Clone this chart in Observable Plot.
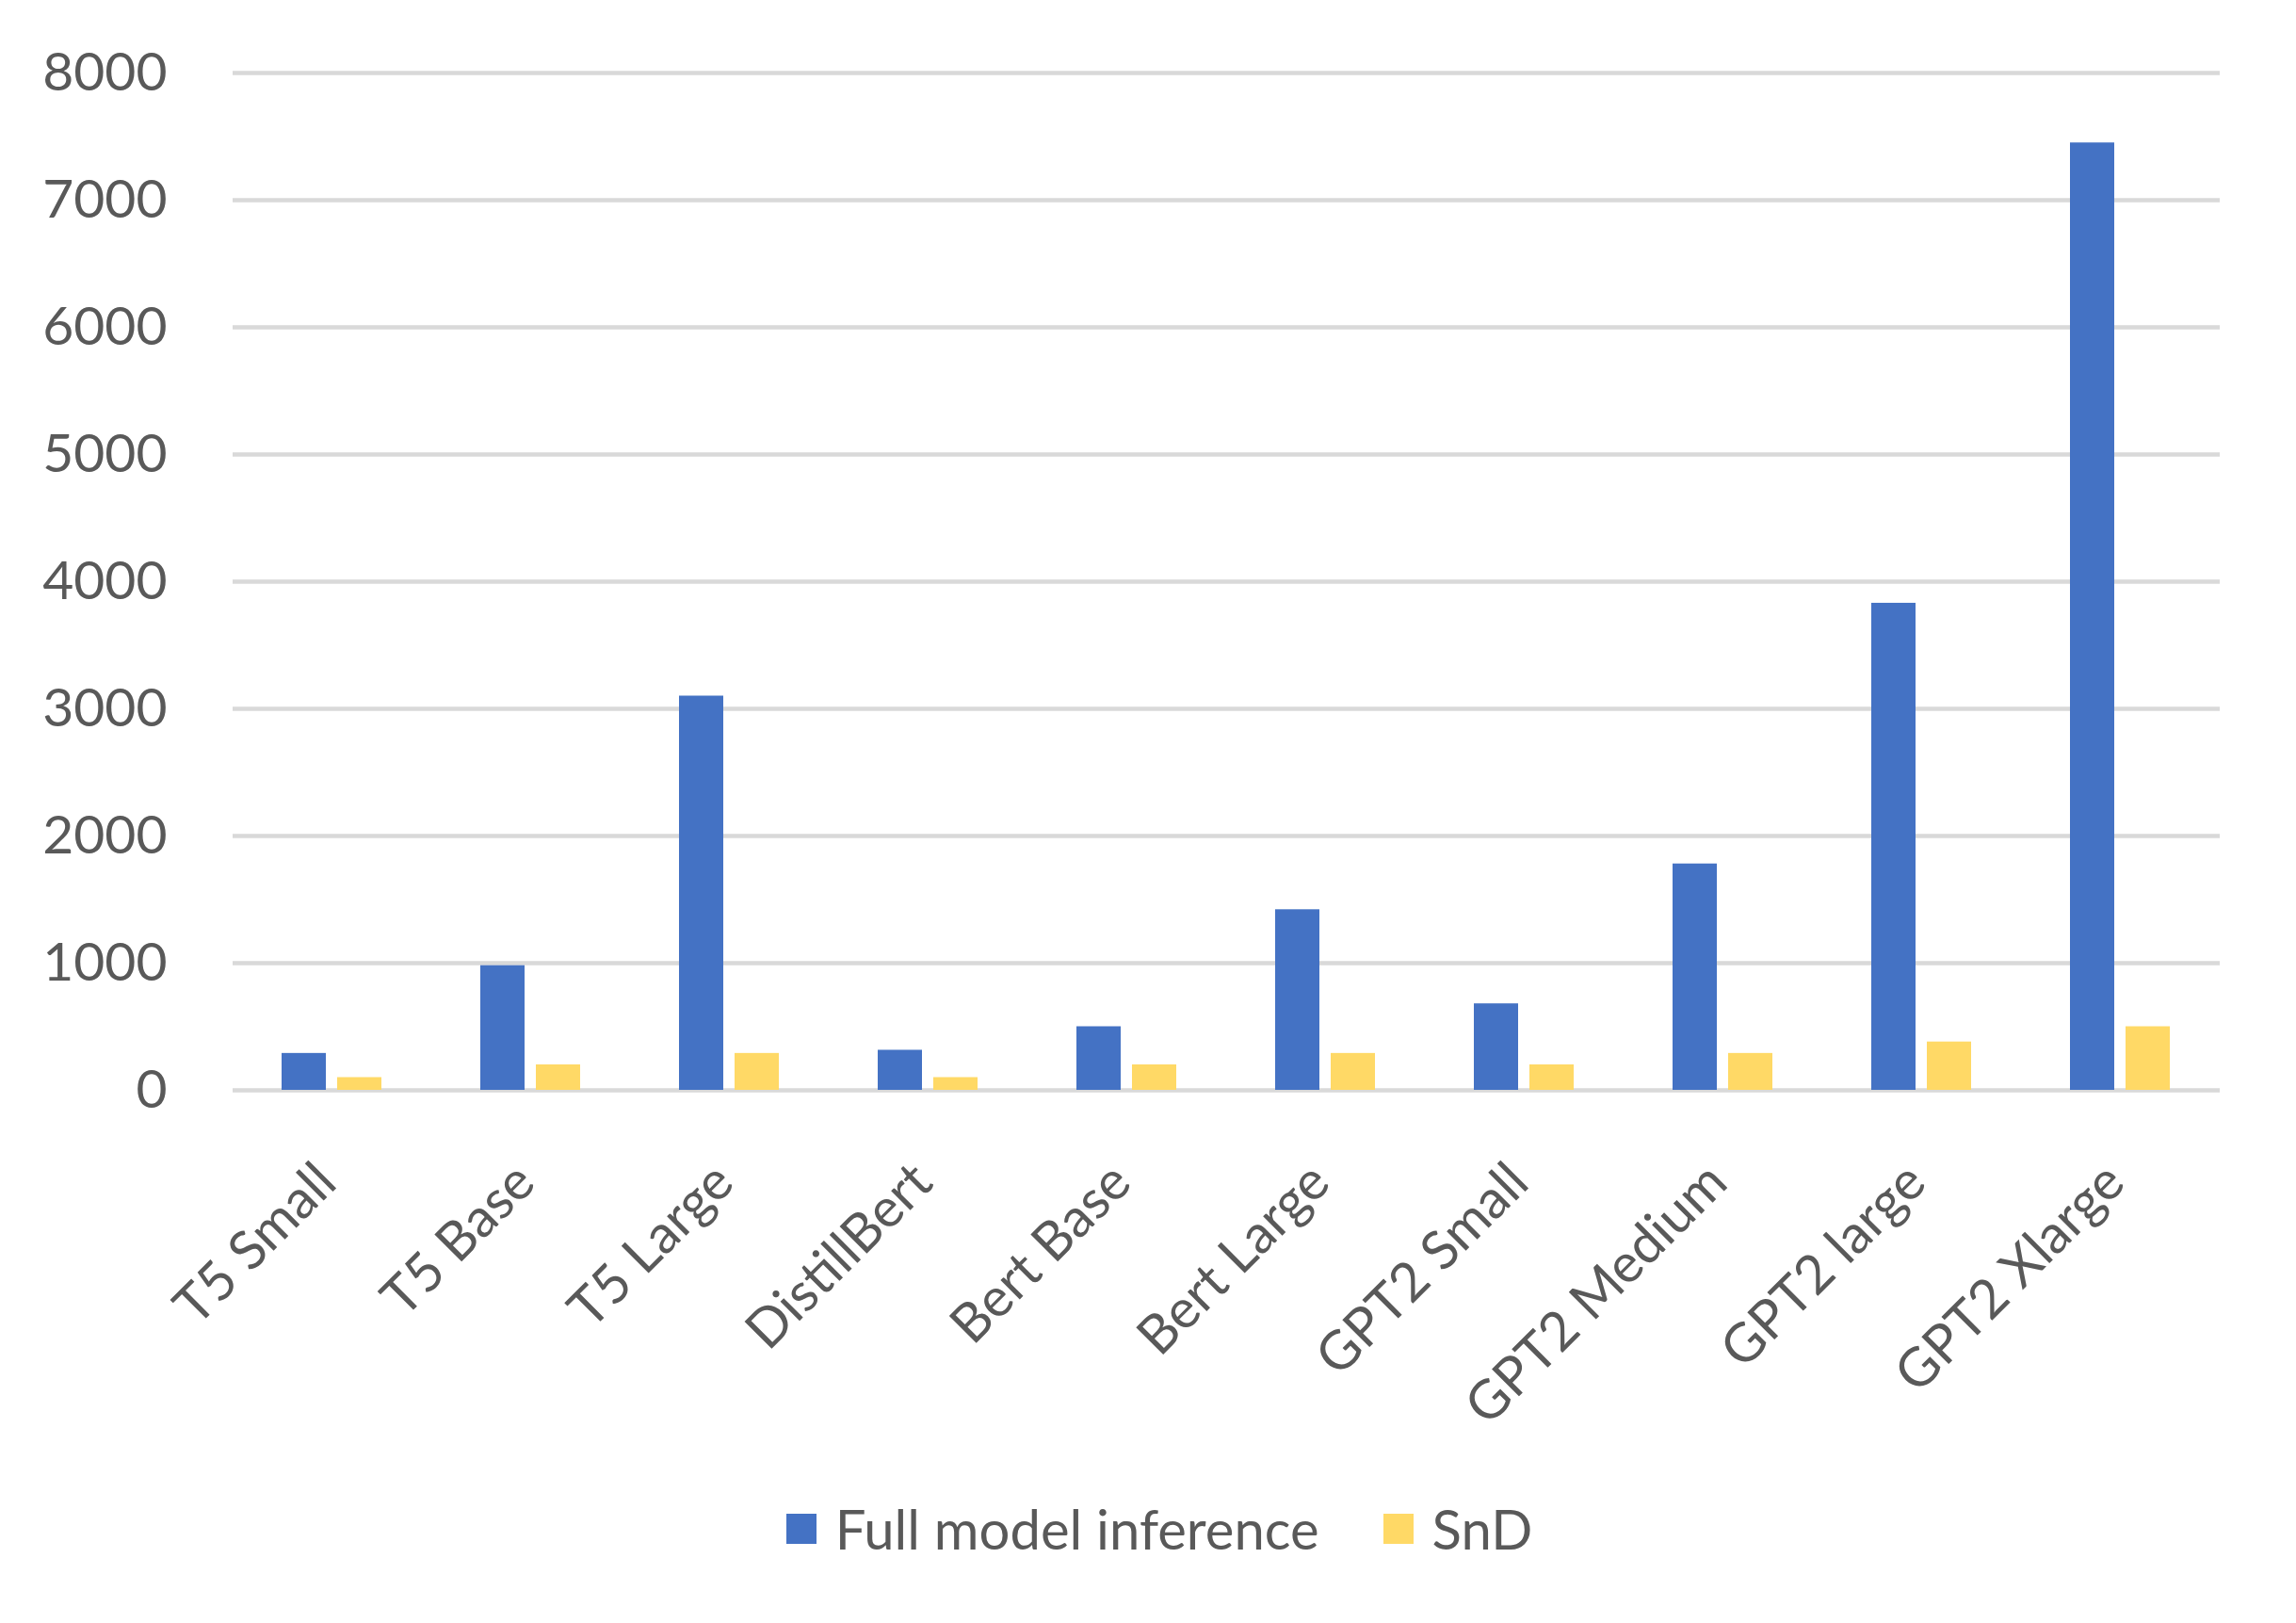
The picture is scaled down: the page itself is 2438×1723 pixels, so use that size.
<!DOCTYPE html>
<html><head><meta charset="utf-8">
<script src="https://cdn.jsdelivr.net/npm/d3@7"></script>
<script src="https://cdn.jsdelivr.net/npm/@observablehq/plot@0.6"></script>
<style>
html,body{margin:0;padding:0;background:#fff;}
body{width:2438px;height:1723px;overflow:hidden;font-family:Lato,"Open Sans",sans-serif;color:#595959;}
#legend{height:223px;box-sizing:border-box;padding-top:88px;display:flex;justify-content:center;align-items:flex-start;font-size:58px;line-height:70px;padding-left:24px;}
.item{display:flex;align-items:center;}
.sw{width:32px;height:32px;margin-right:20px;}
</style></head><body><div id="chart"></div><div id="legend"></div>
<script>
const categories = ["T5 Small","T5 Base","T5 Large","DistillBert","Bert Base","Bert Large","GPT2 Small","GPT2 Medium","GPT2 large","GPT2 Xlarge"];
const fullValues = [290, 980, 3100, 315, 500, 1420, 680, 1780, 3830, 7450];
const sndValues  = [100, 200, 290, 100, 200, 290, 200, 290, 380, 500];
const seriesNames = ["Full model inference","SnD"];
const seriesColors = ["#4472C4","#FFD966"];
const yTicks = [0,1000,2000,3000,4000,5000,6000,7000,8000];

const data = categories.flatMap((c,i)=>[
  {category:c, series:seriesNames[0], value:fullValues[i]},
  {category:c, series:seriesNames[1], value:sndValues[i]}
]);

const chart = Plot.plot({
  width:2438, height:1500,
  marginLeft:244, marginRight:78, marginTop:77, marginBottom:343,
  style:{fontFamily:"Lato, 'Open Sans', sans-serif", fontSize:"57px", color:"#595959", background:"#fff", overflow:"visible"},
  fx:{domain:categories, padding:0, label:null, axis:null},
  x:{domain:seriesNames, paddingInner:0.2, paddingOuter:0.86, axis:null},
  y:{domain:[0,8000], axis:null},
  color:{domain:seriesNames, range:seriesColors},
  marks:[
    Plot.ruleY(yTicks, {stroke:"#D9D9D9", strokeWidth:4.5}),
    Plot.barY(data, {fx:"category", x:"series", y:"value", fill:"series"}),
    Plot.axisY({ticks:yTicks, tickSize:0, tickPadding:70, label:null, tickFormat:d=>String(d), fill:"#595959", fontSize:57}),
    Plot.axisFx({anchor:"bottom", tickSize:0, tickRotate:-45, tickPadding:88, dx:-6, label:null, fill:"#595959", fontSize:57})
  ]
});
document.getElementById("chart").appendChild(chart);

const legend = document.getElementById("legend");
seriesNames.forEach((name,i)=>{
  const item = document.createElement("div");
  item.className = "item";
  if (i>0) item.style.marginLeft = "68px";
  const sw = document.createElement("div");
  sw.className = "sw";
  sw.style.background = seriesColors[i];
  const t = document.createElement("span");
  t.textContent = name;
  item.appendChild(sw); item.appendChild(t);
  legend.appendChild(item);
});
</script>
</body></html>
